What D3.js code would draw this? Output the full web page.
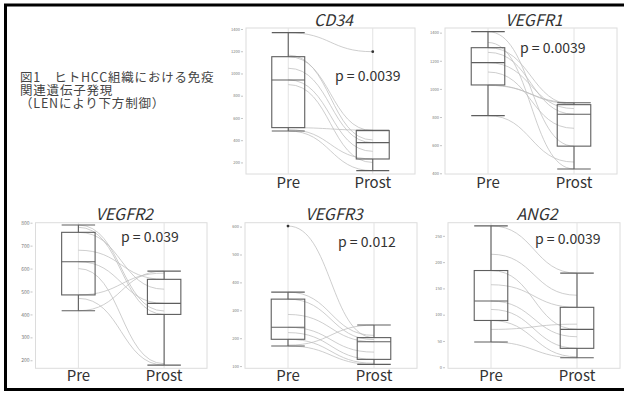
<!DOCTYPE html>
<html><head><meta charset="utf-8">
<script src="https://cdn.jsdelivr.net/npm/d3@7"></script>
<style>body{margin:0;background:#fff;} svg{display:block;}</style>
</head><body><svg id="c" width="624" height="393"></svg>
<script>
// ---------- data ----------
const groups = ["Pre", "Prost"];
const genes = ["CD34", "VEGFR1", "VEGFR2", "VEGFR3", "ANG2"];
const pLabels = ["p = 0.0039", "p = 0.0039", "p = 0.039", "p = 0.012", "p = 0.0039"];
const captionLines = ["図1　ヒトHCC組織における免疫", "関連遺伝子発現", "（LENにより下方制御）"];

const cd34Pre     = [1367, 1165, 1151, 1047, 942, 900, 513, 495, 483];
const cd34Prost   = [1196, 402, 486, 378, 300, 200, 490, 231, 126];
const vegfr1Pre   = [1407, 1330, 1293, 1260, 1187, 1120, 1028, 1025, 810];
const vegfr1Prost = [593, 431, 888, 820, 860, 720, 896, 902, 480];
const vegfr2Pre   = [790, 780, 758, 680, 630, 600, 485, 470, 416];
const vegfr2Prost = [415, 400, 510, 553, 448, 185, 580, 179, 589];
const vegfr3Pre   = [602, 365, 340, 285, 239, 220, 196, 175, 172];
const vegfr3Prost = [202, 210, 195, 187, 150, 124, 110, 247, 106];
const ang2Pre     = [269, 215, 184, 157, 126, 110, 89, 72, 48];
const ang2Prost   = [179, 137, 72, 114, 58, 36, 20, 82, 18];

const cd34Ticks   = [200, 400, 600, 800, 1000, 1200, 1400];
const vegfr1Ticks = [400, 600, 800, 1000, 1200, 1400];
const vegfr2Ticks = [200, 300, 400, 500, 600, 700, 800];
const vegfr3Ticks = [100, 200, 300, 400, 500, 600];
const ang2Ticks   = [0, 50, 100, 150, 200, 250];

const cd34Limits   = [96, 1409];
const vegfr1Limits = [395, 1433];
const vegfr2Limits = [165, 800];
const vegfr3Limits = [92, 614];
const ang2Limits   = [-2, 275];

// ---------- layout ----------
const FONT = "'Noto Sans CJK JP','Noto Sans',sans-serif";
const svg = d3.select("#c");

const panels = [
  {pre: cd34Pre, prost: cd34Prost, ticks: cd34Ticks, lim: cd34Limits,
   f: {x0: 246, x1: 415, y0: 28, y1: 174}, title: 26, lab: 188, p: [335, 81], tf: 4},
  {pre: vegfr1Pre, prost: vegfr1Prost, ticks: vegfr1Ticks, lim: vegfr1Limits,
   f: {x0: 445, x1: 617, y0: 28, y1: 174}, title: 26, lab: 188, p: [520, 53], tf: 4},
  {pre: vegfr2Pre, prost: vegfr2Prost, ticks: vegfr2Ticks, lim: vegfr2Limits,
   f: {x0: 35.5, x1: 207, y0: 222.7, y1: 368.3}, title: 220, lab: 381, p: [121, 242], tf: 5},
  {pre: vegfr3Pre, prost: vegfr3Prost, ticks: vegfr3Ticks, lim: vegfr3Limits,
   f: {x0: 245, x1: 417, y0: 222.7, y1: 368.3}, title: 220, lab: 381, p: [338, 247], tf: 4},
  {pre: ang2Pre, prost: ang2Prost, ticks: ang2Ticks, lim: ang2Limits,
   f: {x0: 448, x1: 620, y0: 222.7, y1: 368.3}, title: 220, lab: 381, p: [535, 244], tf: 4}
];

function boxStats(arr) {
  const s = arr.slice().sort(d3.ascending);
  const q1 = d3.quantile(s, 0.25), med = d3.quantile(s, 0.5), q3 = d3.quantile(s, 0.75);
  const iqr = q3 - q1;
  const inside = s.filter(v => v >= q1 - 1.5 * iqr && v <= q3 + 1.5 * iqr);
  return {q1, med, q3, lo: d3.min(inside), hi: d3.max(inside),
          out: s.filter(v => v < q1 - 1.5 * iqr || v > q3 + 1.5 * iqr)};
}

const link = d3.line().x(d => d[0]).y(d => d[1]).curve(d3.curveBumpX);

panels.forEach((P, i) => {
  const f = P.f;
  const x = d3.scalePoint().domain(groups).range([f.x0, f.x1]).padding(0.5);
  const y = d3.scaleLinear().domain(P.lim).range([f.y1, f.y0]);
  const g = svg.append("g");
  const step = x.step();
  const bw = step * 0.39;

  // frame
  g.append("rect").attr("x", f.x0).attr("y", f.y0)
    .attr("width", f.x1 - f.x0).attr("height", f.y1 - f.y0)
    .attr("fill", "none").attr("stroke", "#dcdcdc").attr("stroke-width", 1);
  // vertical grid
  groups.forEach(c => g.append("line")
    .attr("x1", x(c)).attr("x2", x(c)).attr("y1", f.y0).attr("y2", f.y1)
    .attr("stroke", "#e2e2e2").attr("stroke-width", 1));

  // y axis
  const ax = g.append("g").attr("transform", `translate(${f.x0 - 3},0)`)
    .call(d3.axisLeft(y).tickValues(P.ticks).tickFormat(d3.format("d")).tickSize(2).tickPadding(1));
  ax.select(".domain").remove();
  ax.selectAll("line").attr("stroke", "#888").attr("stroke-width", 0.5);
  ax.selectAll("text").attr("font-size", P.tf).attr("fill", "#777").attr("font-family", FONT);

  // paired lines
  P.pre.forEach((v, k) => {
    g.append("path")
      .attr("d", link([[x(groups[0]), y(v)], [x(groups[1]), y(P.prost[k])]]))
      .attr("fill", "none").attr("stroke", "#bdbdbd").attr("stroke-width", 0.75);
  });

  // boxes
  [P.pre, P.prost].forEach((arr, gi) => {
    const s = boxStats(arr);
    const cx = x(groups[gi]);
    const col = "#5e5e5e";
    const sw = 1.1;
    g.append("rect").attr("x", cx - bw / 2).attr("y", y(s.q3))
      .attr("width", bw).attr("height", y(s.q1) - y(s.q3))
      .attr("fill", "none").attr("stroke", col).attr("stroke-width", sw);
    g.append("line").attr("x1", cx - bw / 2).attr("x2", cx + bw / 2)
      .attr("y1", y(s.med)).attr("y2", y(s.med)).attr("stroke", col).attr("stroke-width", sw);
    [[s.q3, s.hi], [s.q1, s.lo]].forEach(([a, b]) => {
      g.append("line").attr("x1", cx).attr("x2", cx).attr("y1", y(a)).attr("y2", y(b))
        .attr("stroke", col).attr("stroke-width", sw);
      g.append("line").attr("x1", cx - bw / 2).attr("x2", cx + bw / 2)
        .attr("y1", y(b)).attr("y2", y(b)).attr("stroke", col).attr("stroke-width", sw);
    });
    s.out.forEach(o => g.append("circle").attr("cx", cx).attr("cy", y(o)).attr("r", 1.4)
      .attr("fill", "#333"));
  });

  // texts
  g.append("text").attr("x", (f.x0 + f.x1) / 2 + 3).attr("y", P.title)
    .attr("text-anchor", "middle").attr("font-style", "italic")
    .attr("font-size", 16).attr("fill", "#333").attr("font-family", FONT).text(genes[i]);
  groups.forEach(c => g.append("text").attr("x", x(c)).attr("y", P.lab)
    .attr("text-anchor", "middle").attr("font-size", 15).attr("fill", "#333")
    .attr("font-family", FONT).text(c));
  g.append("text").attr("x", P.p[0]).attr("y", P.p[1])
    .attr("font-size", 14).attr("fill", "#333").attr("font-family", FONT).text(pLabels[i]);
});

// caption (one text block, three lines)
const cap = svg.append("text").attr("x", 20).attr("y", 82)
  .attr("font-size", 12.5).attr("letter-spacing", 0.8)
  .attr("fill", "#444").attr("font-family", FONT);
captionLines.forEach((t, k) => cap.append("tspan")
  .attr("x", 20).attr("dy", k === 0 ? 0 : 13).text(t));

// border
svg.append("path").attr("d", "M624,5 L5.5,5 L5.5,389.5 L624,389.5")
  .attr("fill", "none").attr("stroke", "#000").attr("stroke-width", 3);
</script></body></html>
